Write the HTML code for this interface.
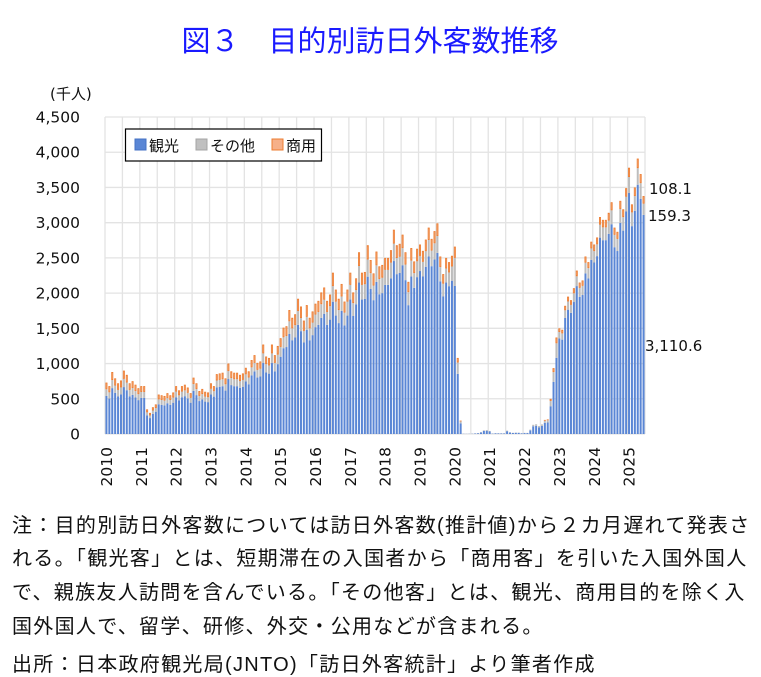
<!DOCTYPE html>
<html><head><meta charset="utf-8">
<style>
body{margin:0;background:#fff;width:761px;height:676px;overflow:hidden;position:relative;font-family:"DejaVu Sans","Noto Sans CJK JP",sans-serif;}
.title{position:absolute;left:0;width:740px;top:18px;text-align:center;font-size:29px;color:#1a1aff;font-family:"Liberation Sans","Noto Sans CJK JP",sans-serif;}
.note{position:absolute;left:12px;font-size:20px;letter-spacing:1.3px;color:#111;white-space:nowrap;font-family:"Liberation Sans","Noto Sans CJK JP",sans-serif;}
svg{position:absolute;left:0;top:0}
</style></head><body>
<div class="title">図３　目的別訪日外客数推移</div>
<svg id="s" width="761" height="676" xmlns="http://www.w3.org/2000/svg" font-family="DejaVu Sans, Noto Sans CJK JP, sans-serif"></svg>
<div class="note" style="top:509px">注：目的別訪日外客数については訪日外客数(推計値)から２カ月遅れて発表さ</div>
<div class="note" style="top:542px">れる。「観光客」とは、短期滞在の入国者から「商用客」を引いた入国外国人</div>
<div class="note" style="top:576px">で、親族友人訪問を含んでいる。「その他客」とは、観光、商用目的を除く入</div>
<div class="note" style="top:610px">国外国人で、留学、研修、外交・公用などが含まれる。</div>
<div class="note" style="top:648px">出所：日本政府観光局(JNTO)「訪日外客統計」より筆者作成</div>
<script>
var d=[730,680,880,790,720,760,900,840,720,750,700,650,
680,680,350,300,380,420,560,550,540,580,550,590,
680,620,680,700,660,580,800,720,610,640,600,590,
720,680,850,860,870,790,1000,890,870,870,840,860,
940,890,1050,1120,1010,1030,1270,1100,1080,1270,1120,1250,
1360,1510,1530,1760,1650,1700,1920,1810,1610,1830,1650,1740,
1850,1890,2010,2080,1890,1980,2290,2050,1920,2130,1880,2050,
2290,2010,2210,2580,2290,2300,2680,2470,2280,2590,2380,2400,
2500,2500,2610,2900,2680,2700,2830,2580,2160,2640,2450,2630,
2690,2600,2760,2930,2770,2880,2990,2520,2270,2500,2440,2530,
2660,1080,190,3,2,3,4,9,14,27,56,59,
46,7,12,11,10,10,51,26,18,22,21,12,
17,17,66,139,147,120,145,200,207,499,935,1370,
1500,1480,1820,1950,1900,2070,2320,2150,2180,2520,2440,2730,
2690,2790,3080,3040,3040,3140,3290,2930,2870,3310,3190,3490,
3780,3260,3500,3910,3690,3378];
var s=document.getElementById('s'),h='';
var L=105,R=645,T=117,B=434,k=(B-T)/4500,mw=(R-L)/186;
for(var i=0;i<=31;i++){var x=L+i*(R-L)/31;h+='<line x1="'+x+'" y1="'+T+'" x2="'+x+'" y2="'+B+'" stroke="#e3e3e3" stroke-width="1.3"/>';}
for(var j=0;j<=9;j++){var y=B-j*500*k;h+='<line x1="'+L+'" y1="'+y+'" x2="'+R+'" y2="'+y+'" stroke="#e3e3e3" stroke-width="1.3"/>';
h+='<text x="80" y="'+(y+5.5)+'" font-size="15.5" text-anchor="end" fill="#111">'+(j*500).toLocaleString('en-US')+'</text>';}
h+='<text x="50" y="99" font-size="15" fill="#111">(千人)</text>';
for(var i=0;i<d.length;i++){
 var yr=Math.floor(i/12),bs,os;
 if(yr<=9){bs=0.13-0.07*yr/9;os=0.13-0.05*yr/9;}else if(yr<13){bs=0.06;os=0.15;}else{bs=0.035;os=0.06;}
 var tot=d[i],b=tot*bs,o=tot*os,tr=tot-b-o;
 if(i==185){tr=3110.6;o=159.3;b=108.1;}
 var x=L+i*mw+0.45,w=mw-0.9,y0=B;
 var y1=y0-tr*k;h+='<rect x="'+x+'" y="'+y1+'" width="'+w+'" height="'+(tr*k)+'" fill="#5a86d5"/>';
 var y2=y1-o*k;h+='<rect x="'+x+'" y="'+y2+'" width="'+w+'" height="'+(o*k)+'" fill="#bdbdbd"/>';
 var y3=y2-b*k;h+='<rect x="'+(x+0.4)+'" y="'+(y3+0.4)+'" width="'+(w-0.8)+'" height="'+Math.max(0,b*k-0.8)+'" fill="#f6b089" stroke="#ed7d31" stroke-width="0.8"/>';
}
for(var y=0;y<16;y++){var cx=106+y*34.84+6;h+='<text transform="translate('+cx+',447) rotate(-90)" font-size="15.5" text-anchor="end" fill="#111">'+(2010+y)+'</text>';}
h+='<text x="649" y="194" font-size="15" fill="#111">108.1</text>';
h+='<text x="648" y="221" font-size="15" fill="#111">159.3</text>';
h+='<text x="645" y="351" font-size="15" fill="#111">3,110.6</text>';
h+='<rect x="125.5" y="129" width="196" height="32" fill="#fff" stroke="#000" stroke-width="1.2"/>';
h+='<rect x="135" y="139" width="11" height="11" fill="#5a86d5" stroke="#4472c4"/><text x="149" y="151" font-size="15" fill="#111">観光</text>';
h+='<rect x="196" y="139" width="11" height="11" fill="#c0c0c0" stroke="#a5a5a5"/><text x="210" y="151" font-size="15" fill="#111">その他</text>';
h+='<rect x="272" y="139" width="11" height="11" fill="#f6b089" stroke="#ed7d31"/><text x="286" y="151" font-size="15" fill="#111">商用</text>';
s.innerHTML=h;
</script>
</body></html>
